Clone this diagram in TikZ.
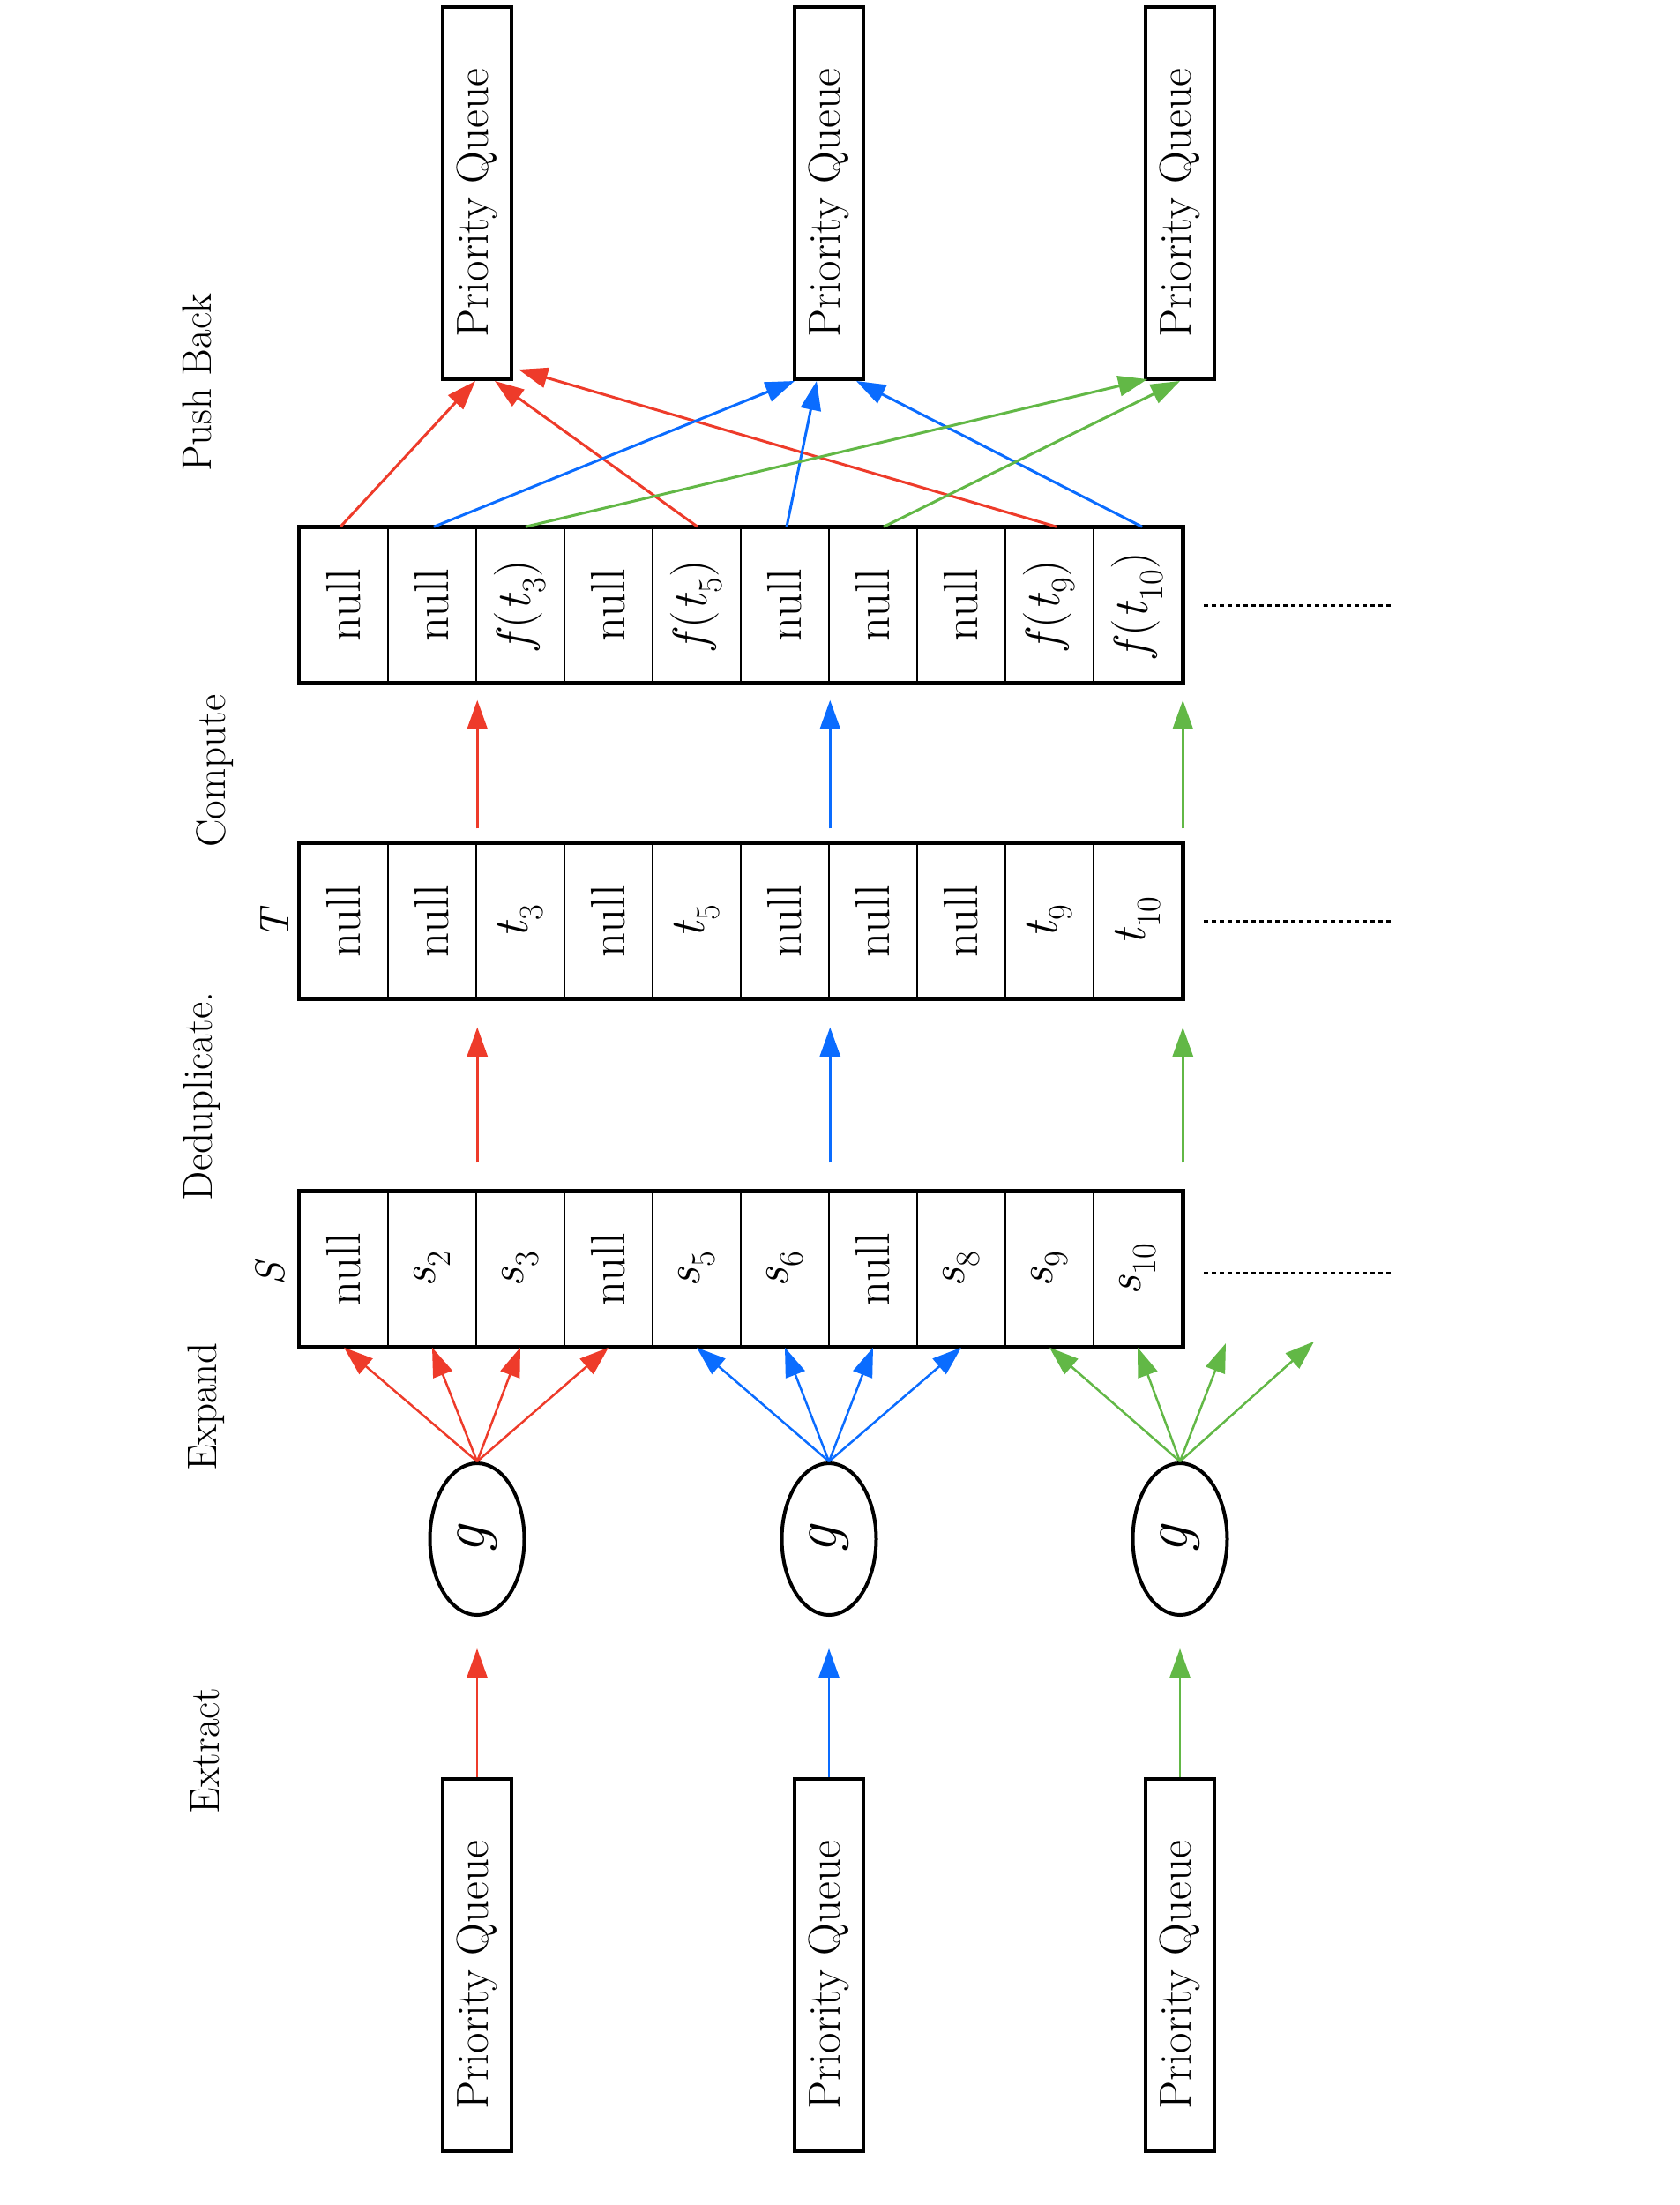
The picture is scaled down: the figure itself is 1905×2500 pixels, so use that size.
\documentclass[tikz,border=0pt]{standalone}
\usetikzlibrary{arrows.meta,shapes.geometric}
\definecolor{cred}{HTML}{EE3B2A}
\definecolor{cblue}{HTML}{0A6CFF}
\definecolor{cgreen}{HTML}{62B846}
\newcommand{\rtxt}[1]{\rotatebox{90}{#1}}
\newcommand{\vsub}[2]{\textit{#1}\textsubscript{#2}}
\newcommand{\pqtext}{\rotatebox{90}{\hspace*{-22pt}Priority Queue}}
\begin{document}
\begin{tikzpicture}[x=1pt,y=-1pt,
  cell/.style={draw=black, line width=2.5pt, minimum width=100pt, minimum height=175pt, inner sep=0pt, font=\fontsize{55}{60}\selectfont},
  queuebox/.style={draw=black, line width=4pt, minimum width=78pt, minimum height=422pt, inner sep=0pt, font=\fontsize{51}{55}\selectfont},
  gnode/.style={draw=black, line width=4pt, ellipse, minimum width=107pt, minimum height=172pt, inner sep=0pt, font=\fontsize{70}{75}\selectfont},
  lbl/.style={inner sep=0pt, font=\fontsize{47}{50}\selectfont},
  outer/.style={draw=black, line width=4.5pt},
  tip/.style={-{Triangle[length=33pt,width=23pt]}},
  ared/.style={draw=cred, line width=2.5pt, tip},
  ablue/.style={draw=cblue, line width=2.5pt, tip},
  agreen/.style={draw=cgreen, line width=2.5pt, tip},
  pred/.style={ared, line width=3pt},
  pblue/.style={ablue, line width=3pt},
  pgreen/.style={agreen, line width=3pt},
  dots/.style={draw=black, line width=3pt, dash pattern=on 5pt off 4pt}
]
\useasboundingbox (0,0) rectangle (1905,2500);
\fill[white] (0,0) rectangle (1905,2500);

% labels
\node[lbl] (lpush) at (223,434) {\rtxt{Push Back}};
\node[lbl] (lcomp) at (244,874) {\rtxt{Compute}};
\node[lbl] (lT) at (312,1046) {\rtxt{\textit{T}}};
\node[lbl] (ldedup) at (229,1243) {\rtxt{Deduplicate.}};
\node[lbl] (lS) at (306,1443) {\rtxt{\textit{S}}};
\node[lbl] (lexp) at (234,1595) {\rtxt{Expand}};
\node[lbl] (lext) at (233,1985) {\rtxt{Extract}};

% top queues
\node[queuebox] (qt1) at (541,219) {\pqtext};
\node[queuebox] (qt2) at (940,219) {\pqtext};
\node[queuebox] (qt3) at (1338,219) {\pqtext};

% bottom queues
\node[queuebox] (qb1) at (541,2228) {\pqtext};
\node[queuebox] (qb2) at (940,2228) {\pqtext};
\node[queuebox] (qb3) at (1338,2228) {\pqtext};

% output array
\foreach \i/\t in {0/null,1/null,2/{\textit{f}(\vsub{t}{3})},3/null,4/{\textit{f}(\vsub{t}{5})},5/null,6/null,7/null,8/{\textit{f}(\vsub{t}{9})},9/{\textit{f}(\vsub{t}{10})}}
  \node[cell] (O\i) at ({390+100*\i},686) {\rtxt{\t}};
\draw[outer] (O0.north west) rectangle (O9.south east);

% T array
\foreach \i/\t in {0/null,1/null,2/{\vsub{t}{3}},3/null,4/{\vsub{t}{5}},5/null,6/null,7/null,8/{\vsub{t}{9}},9/{\vsub{t}{10}}}
  \node[cell] (T\i) at ({390+100*\i},1044) {\rtxt{\t}};
\draw[outer] (T0.north west) rectangle (T9.south east);

% S array
\foreach \i/\t in {0/null,1/{\vsub{s}{2}},2/{\vsub{s}{3}},3/null,4/{\vsub{s}{5}},5/{\vsub{s}{6}},6/null,7/{\vsub{s}{8}},8/{\vsub{s}{9}},9/{\vsub{s}{10}}}
  \node[cell] (S\i) at ({390+100*\i},1439) {\rtxt{\t}};
\draw[outer] (S0.north west) rectangle (S9.south east);

% dotted continuations
\draw[dots] ([xshift=24pt]O9.east) -- ([xshift=239pt]O9.east);
\draw[dots] ([xshift=24pt]T9.east) -- ([xshift=239pt]T9.east);
\draw[dots] ([xshift=24pt,yshift=-4pt]S9.east) -- ([xshift=239pt,yshift=-4pt]S9.east);

% g nodes
\node[gnode] (g1) at (541,1745) {\rtxt{\textit{g}}};
\node[gnode] (g2) at (940,1745) {\rtxt{\textit{g}}};
\node[gnode] (g3) at (1338,1745) {\rtxt{\textit{g}}};

% extract
\draw[ared, shorten >=36pt] (qb1.north) -- (g1.south);
\draw[ablue, shorten >=36pt] (qb2.north) -- (g2.south);
\draw[agreen, shorten >=36pt] (qb3.north) -- (g3.south);

% expand
\draw[ared] (g1.north) -- (S0.south);
\draw[ared] (g1.north) -- (S1.south);
\draw[ared] (g1.north) -- (S2.south);
\draw[ared] (g1.north) -- (S3.south);
\draw[ablue] (g2.north) -- (S4.south);
\draw[ablue] (g2.north) -- (S5.south);
\draw[ablue] (g2.north) -- (S6.south);
\draw[ablue] (g2.north) -- (S7.south);
\coordinate (e10) at (1390,1523);
\coordinate (e11) at (1490,1521);
\draw[agreen] (g3.north) -- (S8.south);
\draw[agreen] (g3.north) -- (S9.south);
\draw[agreen] (g3.north) -- (e10);
\draw[agreen] (g3.north) -- (e11);

% deduplicate
\draw[ared, shorten <=32pt, shorten >=32pt] (S1.north east) -- (T1.south east);
\draw[ablue, shorten <=32pt, shorten >=32pt] (S5.north east) -- (T5.south east);
\draw[agreen, shorten <=32pt, shorten >=32pt] (S9.north east) -- (T9.south east);

% compute
\draw[ared, shorten <=16pt, shorten >=19pt] (T1.north east) -- (O1.south east);
\draw[ablue, shorten <=16pt, shorten >=19pt] (T5.north east) -- (O5.south east);
\draw[agreen, shorten <=16pt, shorten >=19pt] (T9.north east) -- (O9.south east);

% push back
\draw[pred] ([xshift=-4pt]O0.north) -- ([xshift=-2pt]qt1.south);
\draw[pred] ([xshift=1pt]O4.north) -- ([xshift=20pt]qt1.south);
\draw[pred] ([xshift=8pt]O8.north) -- ([xshift=6pt,yshift=13pt]qt1.south east);
\draw[pblue] ([xshift=2pt]O1.north) -- ([xshift=2pt]qt2.south west);
\draw[pblue] ([xshift=2pt]O5.north) -- ([xshift=-14pt]qt2.south);
\draw[pblue] ([xshift=5pt]O9.north) -- ([xshift=31pt]qt2.south);
\draw[pgreen] ([xshift=6pt]O2.north) -- ([xshift=4pt,yshift=2pt]qt3.south west);
\draw[pgreen] ([xshift=12pt]O6.north) -- ([xshift=0pt]qt3.south);
\end{tikzpicture}
\end{document}
